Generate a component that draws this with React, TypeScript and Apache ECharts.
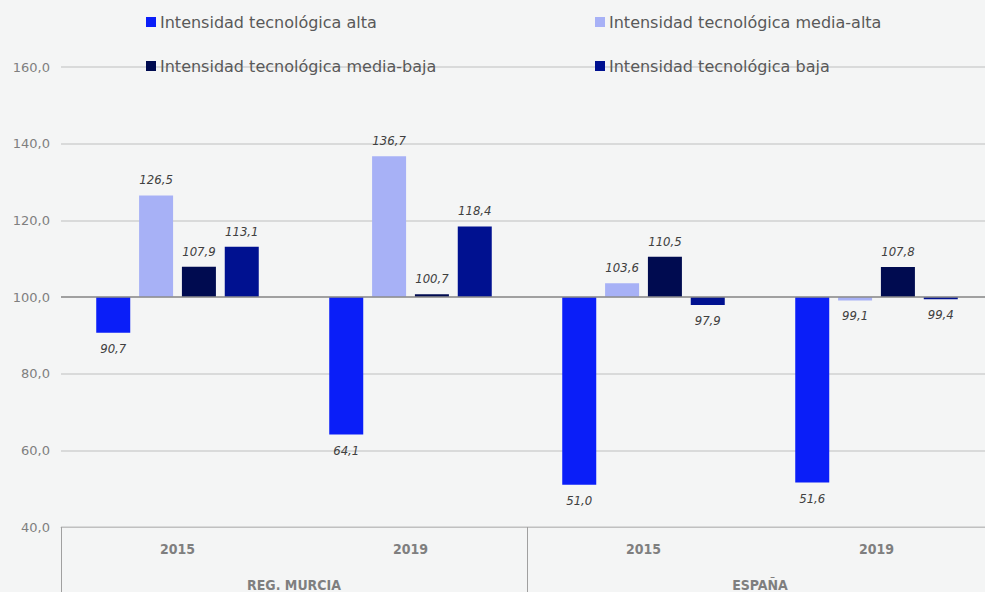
import React, { useEffect, useRef } from "react";
import * as echarts from "echarts";

const categories = ["2015", "2019", "2015", "2019"];
const groups = ["REG. MURCIA", "ESPAÑA"];
const seriesNames = [
  "Intensidad tecnológica alta",
  "Intensidad tecnológica media-alta",
  "Intensidad tecnológica media-baja",
  "Intensidad tecnológica baja",
];
const alta = [90.7, 64.1, 51.0, 51.6];
const mediaAlta = [126.5, 136.7, 103.6, 99.1];
const mediaBaja = [107.9, 100.7, 110.5, 107.8];
const baja = [113.1, 118.4, 97.9, 99.4];
const yTicks = [40, 60, 80, 100, 120, 140, 160];
const BASE = 100;

const colors = ["#0a1ef8", "#a7b1f6", "#000b50", "#001190"];
const FONT_C = "'DejaVu Sans Condensed', 'Liberation Sans', sans-serif";
const FONT_W = "'DejaVu Sans', 'Liberation Sans', sans-serif";

const fmt = (v: number) => v.toFixed(1).replace(".", ",");

export default function App() {
  const ref = useRef<HTMLDivElement>(null);
  useEffect(() => {
    if (!ref.current) return;
    const chart = echarts.init(ref.current, null, { renderer: "svg" });
    const allSeries = [alta, mediaAlta, mediaBaja, baja];
    const series: any[] = allSeries.map((vals, i) => ({
      name: seriesNames[i],
      type: "bar",
      xAxisIndex: 0,
      barWidth: 34,
      barGap: "26%",
      itemStyle: { color: colors[i] },
      data: vals.map((v) => ({
        value: v - BASE,
        label: {
          show: true,
          position: v >= BASE ? "top" : "bottom",
          distance: 9,
          formatter: () => fmt(v),
          fontStyle: "italic",
          fontSize: 13,
          fontFamily: FONT_C,
          color: "#404040",
        },
      })),
      markLine:
        i === 0
          ? {
              silent: true,
              symbol: "none",
              label: { show: false },
              lineStyle: { color: "#8c8c8c", width: 1.5, type: "solid" },
              data: [{ yAxis: 0 }],
            }
          : undefined,
    }));
    series.push({
      type: "bar",
      xAxisIndex: 1,
      data: groups.map(() => null),
      silent: true,
    });
    const legendPos = [
      { left: 146, top: 14 },
      { left: 595, top: 14 },
      { left: 146, top: 58 },
      { left: 595, top: 58 },
    ];
    chart.setOption({
      animation: false,
      backgroundColor: "#f4f5f5",
      legend: seriesNames.map((n, i) => ({
        data: [n],
        left: legendPos[i].left,
        top: legendPos[i].top,
        padding: 0,
        itemWidth: 10,
        itemHeight: 10,
        icon: "rect",
        selectedMode: false,
        textStyle: { fontSize: 16, color: "#595959", fontFamily: FONT_W, padding: [0, 0, 0, -1] },
      })),
      grid: { left: 61, right: 0, top: 67, bottom: 65 },
      yAxis: {
        type: "value",
        min: yTicks[0] - BASE,
        max: yTicks[yTicks.length - 1] - BASE,
        interval: 20,
        axisLine: { show: false },
        axisTick: { show: false },
        axisLabel: {
          formatter: (v: number) => fmt(v + BASE),
          color: "#7f7f7f",
          fontSize: 13,
          fontFamily: FONT_W,
          margin: 11,
        },
        splitLine: { lineStyle: { color: "#d0d0d0", width: 1.5 } },
      },
      xAxis: [
        {
          type: "category",
          data: categories,
          position: "bottom",
          axisLine: { onZero: false, lineStyle: { color: "#c0c0c0" } },
          axisTick: { show: false },
          axisLabel: { color: "#7f7f7f", fontWeight: "bold", fontSize: 14, fontFamily: FONT_C, margin: 15 },
        },
        {
          type: "category",
          data: groups,
          position: "bottom",
          axisLine: { show: false, onZero: false },
          axisTick: { show: true, length: 70, lineStyle: { color: "#a0a0a0" } },
          axisLabel: { color: "#7f7f7f", fontWeight: "bold", fontSize: 14, fontFamily: FONT_C, margin: 51 },
        },
      ],
      series,
    });
    return () => chart.dispose();
  }, []);
  return (
    <div
      style={{ position: "fixed", left: 0, top: 0, width: 985, height: 592, overflow: "hidden" }}
    >
      <div ref={ref} style={{ width: 993, height: 592 }} />
    </div>
  );
}
